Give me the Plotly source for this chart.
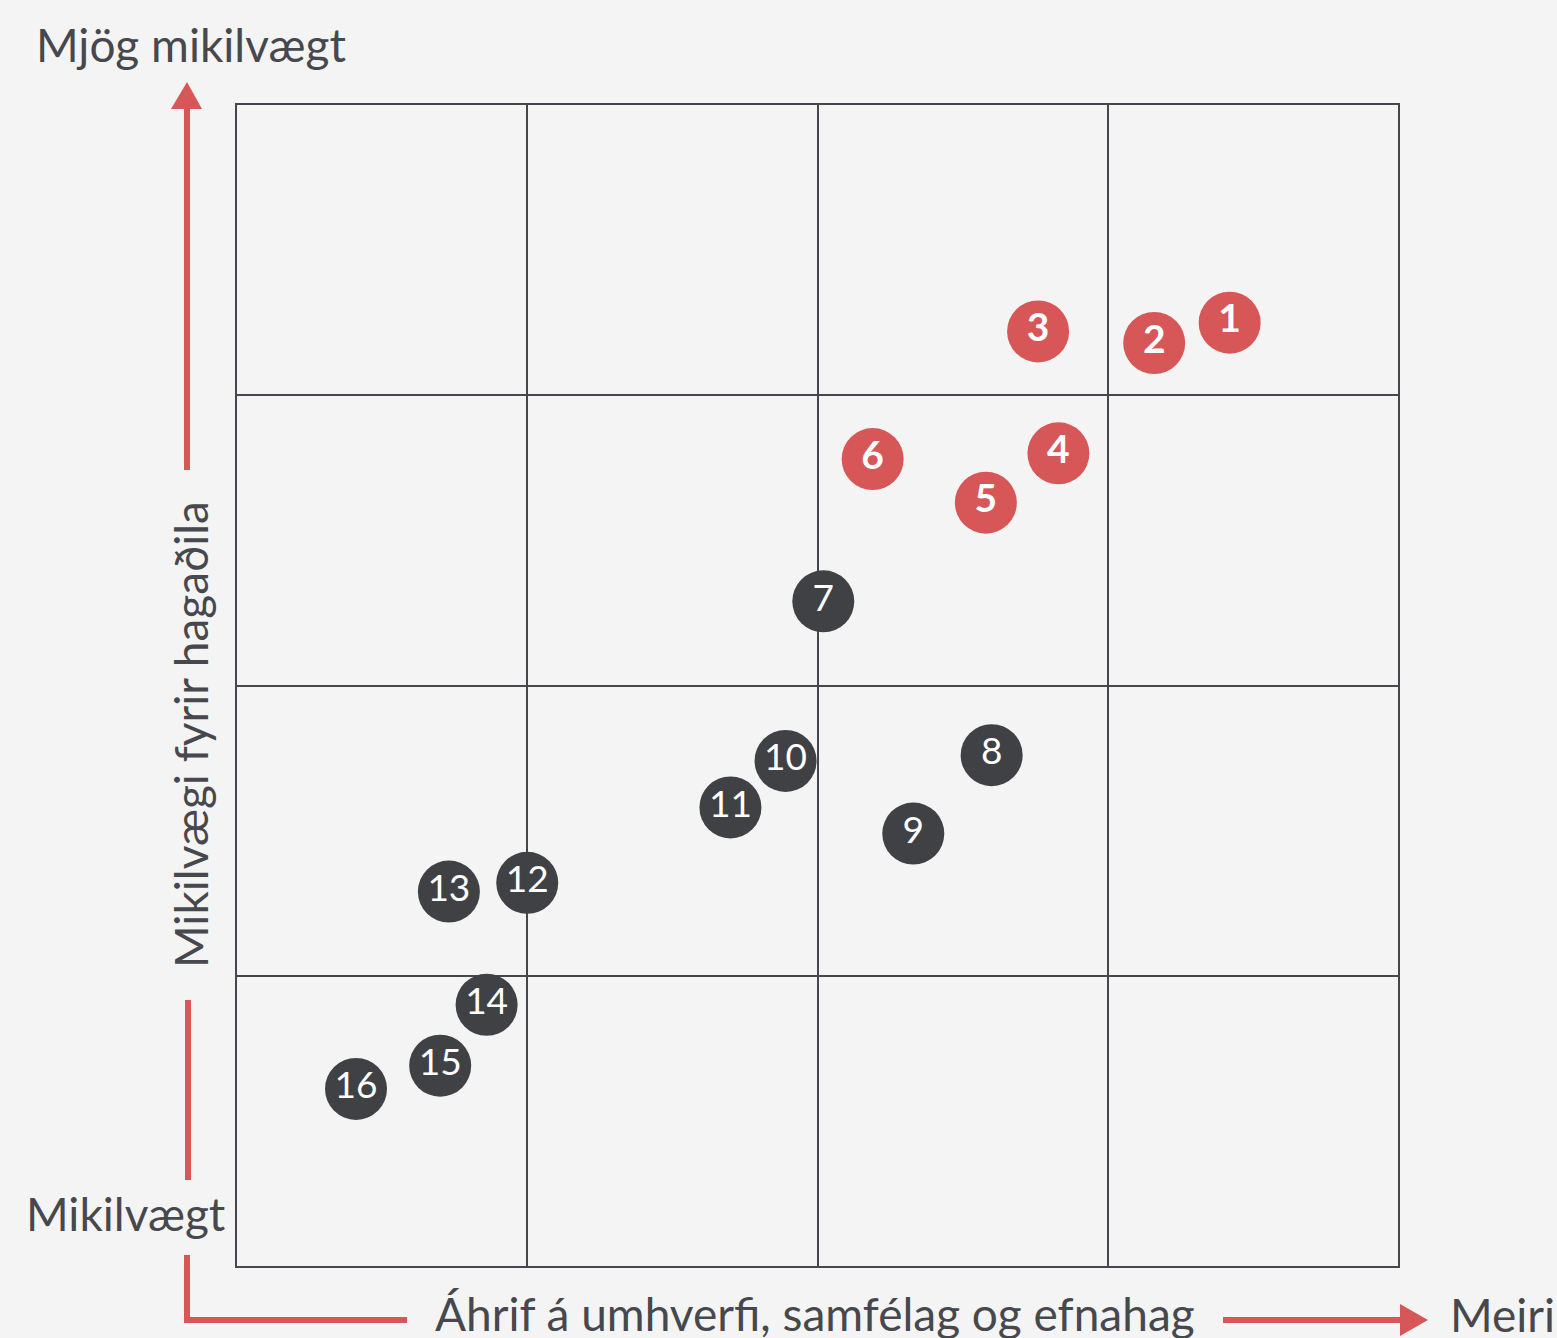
import plotly.graph_objects as go

labels = ["1", "2", "3", "4", "5", "6", "7", "8", "9", "10", "11", "12", "13", "14", "15", "16"]
impact = [3.42, 3.16, 2.76, 2.83, 2.58, 2.19, 2.02, 2.60, 2.33, 1.89, 1.70, 1.00, 0.73, 0.86, 0.70, 0.41]
importance = [3.25, 3.18, 3.22, 2.80, 2.63, 2.78, 2.29, 1.76, 1.49, 1.74, 1.58, 1.32, 1.29, 0.90, 0.69, 0.61]
highlight = [True] * 6 + [False] * 10

RED = "#d75657"
DARK = "#404145"
TEXT = "#47484d"
GRID = "#46474c"
BG = "#f4f4f4"
FONT = "Lato"

W, H = 1557, 1338
L, R, T, B = 237, 1398, 105, 1266


def X(px):
    return (px - L) / (R - L)


def Y(py):
    return (B - py) / (B - T)


fig = go.Figure()
hi = [i for i, h in enumerate(highlight) if h]
lo = [i for i, h in enumerate(highlight) if not h]
fig.add_trace(go.Scatter(
    x=[impact[i] for i in lo], y=[importance[i] for i in lo],
    text=[labels[i] for i in lo], mode="markers+text", textposition="middle center",
    marker=dict(size=62, color=DARK, line=dict(width=0)),
    textfont=dict(family=FONT, size=37, color="white"), hoverinfo="skip", cliponaxis=False))
fig.add_trace(go.Scatter(
    x=[impact[i] for i in hi], y=[importance[i] for i in hi],
    text=["<b>" + labels[i] + "</b>" for i in hi], mode="markers+text", textposition="middle center",
    marker=dict(size=62, color=RED, line=dict(width=0)),
    textfont=dict(family=FONT, size=39, color="white"), hoverinfo="skip", cliponaxis=False))

axis_common = dict(range=[0, 4], tick0=0, dtick=1, showgrid=True, gridcolor=GRID, gridwidth=2,
                   showline=True, mirror=True, linecolor=GRID, linewidth=2, zeroline=False,
                   showticklabels=False, ticks="", fixedrange=True)
fig.update_xaxes(**axis_common)
fig.update_yaxes(**axis_common)

shapes = []
lw = 6
# vertical arrow upper segment
shapes.append(dict(type="line", xref="paper", yref="paper", x0=X(187), x1=X(187), y0=Y(470), y1=Y(107),
                   line=dict(color=RED, width=lw)))
shapes.append(dict(type="path", xref="paper", yref="paper",
                   path=f"M {X(171)} {Y(109)} L {X(202)} {Y(109)} L {X(187)} {Y(82)} Z",
                   fillcolor=RED, line=dict(width=0)))
# vertical lower segment
shapes.append(dict(type="line", xref="paper", yref="paper", x0=X(188), x1=X(188), y0=Y(1000), y1=Y(1180),
                   line=dict(color=RED, width=lw)))
# corner L
shapes.append(dict(type="path", xref="paper", yref="paper",
                   path=f"M {X(187)} {Y(1255)} L {X(187)} {Y(1320)} L {X(407)} {Y(1320)}",
                   line=dict(color=RED, width=lw)))
# right arrow
shapes.append(dict(type="line", xref="paper", yref="paper", x0=X(1223), x1=X(1402), y0=Y(1320), y1=Y(1320),
                   line=dict(color=RED, width=lw)))
shapes.append(dict(type="path", xref="paper", yref="paper",
                   path=f"M {X(1400)} {Y(1304)} L {X(1400)} {Y(1336)} L {X(1428)} {Y(1320)} Z",
                   fillcolor=RED, line=dict(width=0)))

annotations = [
    dict(text="Mjög mikilvægt", x=X(34), y=Y(44), xanchor="left", yanchor="middle"),
    dict(text="Mikilvægt", x=X(126), y=Y(1213), xanchor="center", yanchor="middle"),
    dict(text="Áhrif á umhverfi, samfélag og efnahag", x=X(815), y=Y(1313), xanchor="center", yanchor="middle"),
    dict(text="Meiri", x=X(1448), y=Y(1314), xanchor="left", yanchor="middle"),
    dict(text="Mikilvægi fyrir hagaðila", x=X(190), y=Y(735), xanchor="center", yanchor="middle", textangle=-90),
]
for a in annotations:
    a.update(xref="paper", yref="paper", showarrow=False, font=dict(family=FONT, size=46, color=TEXT))

fig.update_layout(
    width=W, height=H, autosize=False,
    margin=dict(l=L, r=W - R, t=T, b=H - B),
    paper_bgcolor=BG, plot_bgcolor=BG,
    showlegend=False, shapes=shapes, annotations=annotations,
)

fig.write_html("out.html", config={"displayModeBar": False},
               post_script="document.body.style.margin='0';document.body.style.background='#f4f4f4';")
